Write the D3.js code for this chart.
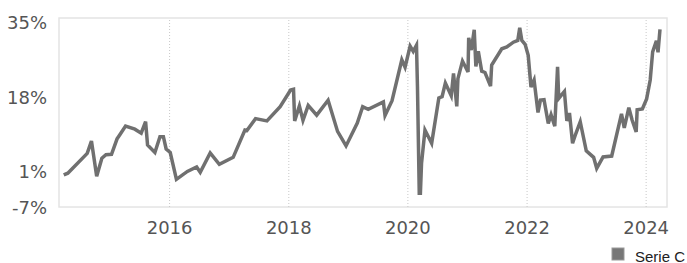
<!DOCTYPE html>
<html>
<head>
<meta charset="utf-8">
<script src="https://d3js.org/d3.v7.min.js"></script>
<style>
    body { margin: 0; background: #fff; }
    #chart { width: 687px; height: 263px; overflow: hidden; }
</style>
</head>
<body>
<div id="chart"></div>
<script>
var dates = [
    "2014-03-26", "2014-04-20", "2014-08-17", "2014-09-12", "2014-10-14", "2014-11-15", "2014-12-10",
    "2015-01-13", "2015-02-16", "2015-03-04", "2015-04-09", "2015-06-05", "2015-07-14", "2015-08-10",
    "2015-08-22", "2015-10-06", "2015-11-06", "2015-11-27", "2015-12-14", "2016-01-08", "2016-02-15",
    "2016-04-22", "2016-06-18", "2016-07-10", "2016-09-09", "2016-11-04", "2017-01-28", "2017-04-10",
    "2017-04-22", "2017-06-14", "2017-08-23", "2017-11-12", "2018-01-15", "2018-02-02", "2018-02-09",
    "2018-03-10", "2018-04-01", "2018-05-03", "2018-06-24", "2018-09-02", "2018-10-30", "2018-12-21",
    "2019-02-28", "2019-04-02", "2019-05-06", "2019-08-07", "2019-08-17", "2019-09-29", "2019-11-28",
    "2019-12-18", "2020-01-18", "2020-02-06", "2020-02-26", "2020-03-03", "2020-03-14", "2020-03-21",
    "2020-03-28", "2020-04-18", "2020-05-29", "2020-07-12", "2020-08-01", "2020-08-21", "2020-09-26",
    "2020-10-10", "2020-10-30", "2020-11-06", "2020-12-04", "2021-01-07", "2021-01-11", "2021-01-27",
    "2021-02-14", "2021-02-24", "2021-03-11", "2021-04-01", "2021-04-21", "2021-05-25", "2021-06-01",
    "2021-08-02", "2021-09-02", "2021-10-12", "2021-11-08", "2021-11-20", "2021-12-03", "2021-12-23",
    "2022-01-11", "2022-01-28", "2022-02-16", "2022-03-12", "2022-03-27", "2022-04-18", "2022-05-14",
    "2022-05-31", "2022-06-23", "2022-07-10", "2022-07-17", "2022-08-21", "2022-09-05", "2022-09-21",
    "2022-10-10", "2022-10-29", "2022-11-26", "2023-01-02", "2023-02-16", "2023-03-07", "2023-04-15",
    "2023-06-07", "2023-08-06", "2023-08-23", "2023-09-20", "2023-10-10", "2023-11-04", "2023-11-10",
    "2023-12-12", "2024-01-07", "2024-01-29", "2024-02-13", "2024-03-07", "2024-03-17", "2024-03-29"
];

var serieC = [
    0.3, 0.7, 5.2, 8.0, 0.0, 4.1, 4.9,
    5.0, 8.5, 9.4, 11.4, 10.7, 9.8, 12.4,
    7.1, 5.4, 9.0, 9.0, 6.2, 5.4, -0.7,
    1.1, 2.1, 0.9, 5.3, 2.7, 4.3, 10.5,
    10.4, 13.1, 12.6, 15.8, 19.6, 19.8, 12.6,
    16.0, 12.7, 16.1, 13.9, 17.3, 10.2, 6.9,
    12.1, 15.8, 15.2, 16.9, 13.8, 17.2, 26.5,
    24.8, 29.6, 28.4, 29.8, 20.3, -3.9, -3.9,
    3.0, 10.5, 7.5, 17.8, 18.1, 21.2, 18.3,
    23.4, 15.9, 22.2, 26.2, 23.7, 31.5, 28.7,
    33.3, 25.0, 28.4, 23.9, 23.6, 20.5, 25.3,
    29.0, 29.4, 30.5, 30.9, 33.8, 30.9, 30.0,
    27.5, 20.3, 21.9, 14.5, 17.3, 17.4, 12.0,
    14.0, 11.4, 24.9, 17.7, 19.3, 12.6, 14.4,
    7.5, 9.6, 12.4, 5.8, 4.3, 1.8, 4.4,
    4.6, 14.2, 11.0, 15.6, 12.8, 10.1, 15.1,
    15.3, 17.6, 21.9, 28.3, 30.8, 28.2, 33.4
];

var yTicks = [-7, 1, 18, 35];
var xTickYears = [2016, 2018, 2020, 2022, 2024];
var seriesName = "Serie C";

var parseDate = d3.timeParse("%Y-%m-%d");
var data = dates.map(function (d, i) {
    return { date: parseDate(d), value: serieC[i] };
});

var width = 687;
var height = 263;
var plot = { left: 59, right: 667, top: 18, bottom: 207 };

var svg = d3.select("#chart").append("svg")
    .attr("width", width)
    .attr("height", height);

var x = d3.scaleTime()
    .domain([parseDate("2014-02-25"), parseDate("2024-05-11")])
    .range([plot.left, plot.right]);

var y = d3.scaleLinear()
    .domain([-7, 36])
    .range([plot.bottom, plot.top]);

// frame
svg.append("rect")
    .attr("x", plot.left)
    .attr("y", plot.top)
    .attr("width", plot.right - plot.left)
    .attr("height", plot.bottom - plot.top)
    .attr("fill", "none")
    .attr("stroke", "#e4e4e4")
    .attr("stroke-width", 1.5);

var xTicks = xTickYears.map(function (yr) { return new Date(yr, 0, 1); });

// dotted year gridlines
var xAxis = d3.axisBottom(x)
    .tickValues(xTicks)
    .tickSize(-(plot.bottom - plot.top))
    .tickFormat(d3.timeFormat("%Y"))
    .tickPadding(14);

var gx = svg.append("g")
    .attr("transform", "translate(0," + plot.bottom + ")")
    .call(xAxis);
gx.select(".domain").remove();
gx.selectAll(".tick line")
    .attr("stroke", "#c8c8c8")
    .attr("stroke-width", 1)
    .attr("stroke-dasharray", "1,2");
gx.selectAll(".tick text")
    .attr("fill", "#555")
    .style("font-family", "'DejaVu Sans', Verdana, sans-serif")
    .style("font-size", "18px");

var yAxis = d3.axisLeft(y)
    .tickValues(yTicks)
    .tickSize(0)
    .tickPadding(12)
    .tickFormat(function (d) { return d + "%"; });

var gy = svg.append("g")
    .attr("transform", "translate(" + plot.left + ",0)")
    .call(yAxis);
gy.select(".domain").remove();
gy.selectAll(".tick text")
    .attr("fill", "#555")
    .attr("dy", "0.34em")
    .style("font-family", "'DejaVu Sans', Verdana, sans-serif")
    .style("font-size", "18px");

var line = d3.line()
    .x(function (d) { return x(d.date); })
    .y(function (d) { return y(d.value); });

svg.append("path")
    .datum(data)
    .attr("fill", "none")
    .attr("stroke", "#707070")
    .attr("stroke-width", 3.5)
    .attr("stroke-linejoin", "miter")
    .attr("d", line);

// legend
var legend = svg.append("g")
    .attr("transform", "translate(612,248)");
legend.append("rect")
    .attr("width", 12)
    .attr("height", 12)
    .attr("fill", "#777")
    .attr("stroke", "#999")
    .attr("stroke-width", 1);
legend.append("text")
    .attr("x", 23)
    .attr("y", 13.5)
    .attr("fill", "#222")
    .style("font-family", "'Liberation Sans', Arial, sans-serif")
    .style("font-size", "15px")
    .text(seriesName);
</script>
</body>
</html>
